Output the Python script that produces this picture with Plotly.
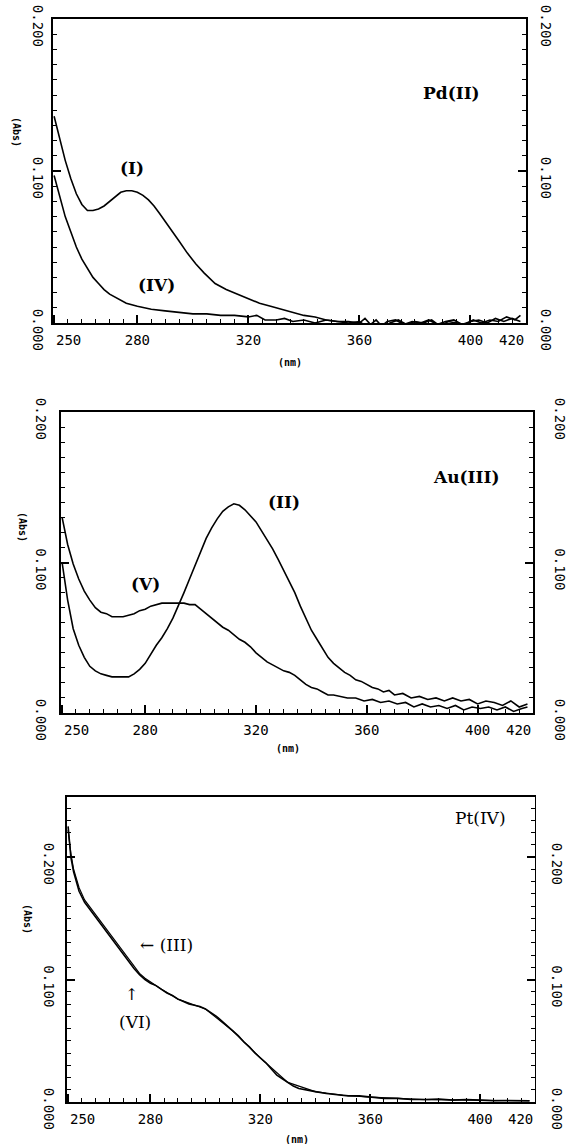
import plotly.graph_objects as go

W, H = 571, 1144

# ---------------- data ----------------
x_tickvals = [250, 280, 320, 360, 400, 420]
x_ticktext = ["", "280", "320", "360", "400", ""]
x_edge_labels = [("250", 250, "left"), ("420", 420, "right")]
y_tickvals = [0.0, 0.1, 0.2]
y_ticktext = ["0.000", "0.100", "0.200"]

# Panel 1: Pd(II)
pd_I_nm = [250, 252, 254, 256, 258, 260, 262, 264, 266, 268, 270, 272, 274, 276, 278, 280, 282, 284, 286,
           288, 290, 292, 295, 298, 301, 304, 308, 312, 316, 320, 324, 328, 332, 336, 340, 344, 348, 352, 356,
           360, 362, 364, 366, 368, 370, 373, 376, 379, 382, 385, 388, 391, 394, 397, 400, 403, 406, 409, 412,
           415, 418]
pd_I_abs = [0.136, 0.122, 0.107, 0.095, 0.085, 0.078, 0.074, 0.074, 0.075, 0.077, 0.080, 0.083, 0.086, 0.087,
            0.087, 0.086, 0.084, 0.081, 0.077, 0.072, 0.067, 0.062, 0.054, 0.046, 0.039, 0.033, 0.026, 0.022,
            0.019, 0.016, 0.013, 0.011, 0.009, 0.007, 0.005, 0.004, 0.002, 0.001, 0.001,
            0.000, 0.003, -0.001, 0.002, -0.002, 0.001, 0.002, -0.001, 0.001, 0.000, 0.002, -0.001, 0.001,
            0.002, -0.001, 0.001, 0.002, 0.000, 0.003, 0.001, 0.003, 0.001]
pd_IV_nm = [250, 252, 254, 256, 258, 260, 262, 264, 266, 268, 270, 273, 276, 280, 285, 290, 295, 300, 305, 310,
            315, 320, 323, 326, 330, 333, 336, 340, 344, 348, 352, 356,
            360, 363, 366, 368, 371, 374, 377, 380, 383, 386, 389, 392, 395, 398, 401, 404, 407, 410, 413,
            416, 418]
pd_IV_abs = [0.097, 0.083, 0.070, 0.060, 0.050, 0.042, 0.036, 0.030, 0.026, 0.022, 0.019, 0.016, 0.013, 0.011,
             0.009, 0.008, 0.007, 0.006, 0.006, 0.005, 0.005, 0.004, 0.005, 0.002, 0.002, 0.003, 0.001, 0.002,
             0.000, 0.002, 0.001, 0.000,
             0.001, -0.003, -0.006, -0.003, 0.000, 0.002, -0.001, 0.001, 0.000, 0.002, -0.002, 0.001, 0.000,
             -0.001, 0.002, 0.000, 0.002, 0.001, 0.004, 0.002, 0.005]

# Panel 2: Au(III)
au_II_nm = [250, 252, 254, 256, 258, 260, 262, 264, 266, 268, 270, 272, 274, 276, 278, 280, 282, 284, 286, 288,
            290, 292, 294, 296, 298, 300, 302, 304, 306, 308, 310, 312, 314, 316, 318, 320, 322, 324, 326, 328,
            330, 332, 334, 336, 338, 340, 342, 344, 346, 348, 350, 352, 354, 356, 358, 360, 362, 364, 366, 368,
            370, 373, 376, 379, 382, 385, 388, 391, 394, 397, 400, 403, 406, 409, 412, 415, 418]
au_II_abs = [0.100, 0.075, 0.056, 0.045, 0.037, 0.031, 0.028, 0.026, 0.025, 0.024, 0.024, 0.024, 0.024, 0.026,
             0.029, 0.033, 0.039, 0.045, 0.050, 0.056, 0.063, 0.071, 0.080, 0.089, 0.098, 0.107, 0.116, 0.123,
             0.129, 0.134, 0.137, 0.139, 0.138, 0.135, 0.131, 0.127, 0.121, 0.115, 0.109, 0.102, 0.095, 0.088,
             0.080, 0.071, 0.063, 0.055, 0.049, 0.043, 0.037, 0.033, 0.030, 0.027, 0.025, 0.022, 0.021, 0.019,
             0.017, 0.016, 0.014, 0.015, 0.012, 0.013, 0.010, 0.011, 0.009, 0.010, 0.008, 0.010, 0.008, 0.009,
             0.006, 0.008, 0.007, 0.005, 0.008, 0.004, 0.006]
au_V_nm = [250, 252, 254, 256, 258, 260, 262, 264, 266, 268, 270, 272, 274, 276, 278, 280, 282, 284, 286, 288,
           290, 292, 294, 296, 298, 300, 302, 304, 306, 308, 310, 312, 314, 316, 318, 320, 322, 324, 326, 328,
           330, 332, 334, 336, 338, 340, 342, 344, 346, 348, 350, 353, 356, 359, 362, 365, 368, 371, 374, 377,
           380, 383, 386, 389, 392, 395, 398, 401, 404, 407, 410, 413, 416, 418]
au_V_abs = [0.130, 0.112, 0.099, 0.089, 0.081, 0.075, 0.070, 0.067, 0.066, 0.064, 0.064, 0.064, 0.065, 0.066,
            0.068, 0.069, 0.071, 0.072, 0.073, 0.073, 0.073, 0.073, 0.073, 0.072, 0.072, 0.069, 0.066, 0.063,
            0.060, 0.057, 0.055, 0.052, 0.049, 0.047, 0.044, 0.040, 0.037, 0.034, 0.032, 0.030, 0.028, 0.027,
            0.025, 0.022, 0.019, 0.017, 0.016, 0.014, 0.012, 0.012, 0.011, 0.010, 0.010, 0.008, 0.009, 0.007,
            0.008, 0.006, 0.007, 0.004, 0.006, 0.004, 0.005, 0.003, 0.005, 0.002, 0.004, 0.003, 0.004, 0.002,
            0.004, 0.001, 0.003, 0.004]

# Panel 3: Pt(IV)
pt_III_nm = [250, 251, 252, 254, 256, 258, 260, 262, 264, 266, 268, 270, 272, 274, 276, 278, 280, 282, 284, 286,
             288, 290, 292, 294, 296, 298, 300, 302, 304, 306, 308, 310, 312, 314, 316, 318, 320, 322, 324, 326,
             328, 330, 332, 334, 336, 338, 340, 344, 348, 352, 356, 360, 365, 370, 375, 380, 385, 390, 395, 400,
             405, 410, 415, 418]
pt_III_abs = [0.225, 0.200, 0.188, 0.172, 0.163, 0.157, 0.151, 0.145, 0.139, 0.132, 0.126, 0.120, 0.114, 0.109,
              0.104, 0.100, 0.097, 0.095, 0.092, 0.089, 0.087, 0.084, 0.082, 0.080, 0.079, 0.078, 0.076, 0.073,
              0.070, 0.066, 0.062, 0.058, 0.054, 0.049, 0.045, 0.040, 0.036, 0.032, 0.027, 0.022, 0.019, 0.016,
              0.013, 0.011, 0.010, 0.009, 0.0085, 0.007, 0.006, 0.005, 0.005, 0.004, 0.003, 0.003, 0.002, 0.002,
              0.0025, 0.0015, 0.002, 0.0015, 0.001, 0.0012, 0.0008, 0.001]
pt_VI_nm = [250, 251, 252, 254, 256, 258, 260, 262, 264, 266, 268, 270, 272, 274, 276, 278, 280, 284, 290, 300,
            310, 320, 330, 340, 350, 360, 380, 400, 418]
pt_VI_abs = [0.222, 0.203, 0.190, 0.175, 0.165, 0.159, 0.153, 0.147, 0.141, 0.134, 0.128, 0.122, 0.116, 0.110,
             0.105, 0.101, 0.098, 0.092, 0.084, 0.076, 0.058, 0.036, 0.016, 0.0085, 0.0055, 0.004, 0.002,
             0.0015, 0.001]

# ---------------- styling ----------------
TICKFONT = dict(family="DejaVu Sans Mono", size=14, color="black")
LABELFONT_B = dict(family="DejaVu Serif", size=17, color="black")
LINE = dict(color="black", width=1.6)


def X(px):
    return px / W


def Y(py):
    return 1 - py / H


def xaxis_cfg(x0, x1, anchor):
    return dict(domain=[X(x0), X(x1)], anchor=anchor, range=[249.6, 420], automargin=False,
                tickmode="array", tickvals=x_tickvals, ticktext=x_ticktext,
                ticks="inside", ticklen=8, tickwidth=1.5, tickcolor="black",
                showline=True, linecolor="black", linewidth=2, mirror=True,
                showgrid=False, zeroline=False, tickfont=TICKFONT, ticklabelstandoff=3,
                ticklabeloverflow="allow",
                minor=dict(ticks="inside", ticklen=4, tickwidth=1.2, tickcolor="black",
                           tickmode="linear", tick0=250, dtick=5, showgrid=False))


def yaxis_cfg(y0, y1, rng, anchor, side, standoff, overlaying=None, lw=2):
    d = dict(domain=[Y(y1), Y(y0)], anchor=anchor, range=rng, side=side, automargin=False,
             tickmode="array", tickvals=y_tickvals, ticktext=y_ticktext, tickangle=90,
             ticks="inside", ticklen=8, tickwidth=1.5, tickcolor="black",
             showline=True, linecolor="black", linewidth=lw, mirror=False,
             showgrid=False, zeroline=False, tickfont=TICKFONT, ticklabelstandoff=standoff,
             ticklabelshift=9, ticklabeloverflow="allow",
             minor=dict(ticks="inside", ticklen=4, tickwidth=1.2, tickcolor="black",
                        tickmode="linear", tick0=0, dtick=0.01, showgrid=False))
    if overlaying:
        d["overlaying"] = overlaying
    return d


fig = go.Figure()

# panel 1
fig.add_trace(go.Scatter(x=pd_I_nm, y=pd_I_abs, mode="lines", line=LINE, xaxis="x", yaxis="y", name="(I)"))
fig.add_trace(go.Scatter(x=pd_IV_nm, y=pd_IV_abs, mode="lines", line=LINE, xaxis="x", yaxis="y4", name="(IV)"))
# panel 2
fig.add_trace(go.Scatter(x=au_II_nm, y=au_II_abs, mode="lines", line=LINE, xaxis="x2", yaxis="y2", name="(II)"))
fig.add_trace(go.Scatter(x=au_V_nm, y=au_V_abs, mode="lines", line=LINE, xaxis="x2", yaxis="y5", name="(V)"))
# panel 3
fig.add_trace(go.Scatter(x=pt_III_nm, y=pt_III_abs, mode="lines", line=LINE, xaxis="x3", yaxis="y3", name="(III)"))
fig.add_trace(go.Scatter(x=pt_VI_nm, y=pt_VI_abs, mode="lines", line=dict(color="black", width=1.2),
                         xaxis="x3", yaxis="y6", name="(VI)"))

P1 = (53, 526, 19, 323)
P2 = (61, 533, 412, 713)
P3 = (67, 535, 797, 1102)
R3 = [0, 0.249]

fig.update_layout(
    width=W, height=H, margin=dict(l=0, r=0, t=0, b=0, autoexpand=False),
    paper_bgcolor="white", plot_bgcolor="white", showlegend=False,
    xaxis=xaxis_cfg(P1[0], P1[1], "y"),
    yaxis=yaxis_cfg(P1[2], P1[3], [0, 0.2], "x", "left", 1),
    yaxis4=yaxis_cfg(P1[2], P1[3], [0, 0.2], "x", "right", 7, overlaying="y"),
    xaxis2=xaxis_cfg(P2[0], P2[1], "y2"),
    yaxis2=yaxis_cfg(P2[2], P2[3], [0, 0.2], "x2", "left", 6),
    yaxis5=yaxis_cfg(P2[2], P2[3], [0, 0.2], "x2", "right", 14, overlaying="y2"),
    xaxis3=xaxis_cfg(P3[0], P3[1], "y3"),
    yaxis3=yaxis_cfg(P3[2], P3[3], R3, "x3", "left", 4),
    yaxis6=yaxis_cfg(P3[2], P3[3], R3, "x3", "right", 10, overlaying="y3", lw=1),
)

ann = []
C = dict(showarrow=False, xanchor="center", yanchor="middle")
# panel labels
ann.append(dict(text="<b>Pd(II)</b>", x=393, y=0.151, xref="x", yref="y", font=LABELFONT_B, **C))
ann.append(dict(text="<b>(I)</b>", x=278, y=0.102, xref="x", yref="y", font=LABELFONT_B, **C))
ann.append(dict(text="<b>(IV)</b>", x=287, y=0.025, xref="x", yref="y", font=LABELFONT_B, **C))
ann.append(dict(text="<b>Au(III)</b>", x=396, y=0.157, xref="x2", yref="y2", font=LABELFONT_B, **C))
ann.append(dict(text="<b>(II)</b>", x=330, y=0.140, xref="x2", yref="y2", font=LABELFONT_B, **C))
ann.append(dict(text="<b>(V)</b>", x=280, y=0.086, xref="x2", yref="y2", font=LABELFONT_B, **C))
SERIF = dict(family="DejaVu Serif", size=17, color="black")
ann.append(dict(text="Pt(IV)", x=400, y=0.232, xref="x3", yref="y3", font=SERIF, **C))
ann.append(dict(text="← (III)", x=286, y=0.128, xref="x3", yref="y3", font=SERIF, **C))
ann.append(dict(text="↑", x=273, y=0.088, xref="x3", yref="y3",
                font=dict(family="DejaVu Serif", size=16, color="black"), **C))
ann.append(dict(text="(VI)", x=274.5, y=0.065, xref="x3", yref="y3", font=SERIF, **C))

# edge tick labels (250 / 420) aligned to the frame like the original
for xa, ya in [("x", "y"), ("x2", "y2"), ("x3", "y3")]:
    for txt, xv, anc in x_edge_labels:
        ann.append(dict(text=txt, x=xv, y=0, xref=xa, yref=ya, xanchor=anc, yanchor="top",
                        yshift=-7, font=TICKFONT, showarrow=False))

# axis titles
SMALL = dict(family="DejaVu Sans Mono", size=10, color="black")
for (px, py) in [(17, 132), (23, 527), (28, 919)]:
    ann.append(dict(text="<b>(Abs)</b>", x=X(px), y=Y(py), xref="paper", yref="paper", textangle=90,
                    font=SMALL, **C))
for (px, py) in [(290, 362), (288, 748), (297, 1139)]:
    ann.append(dict(text="<b>(nm)</b>", x=X(px), y=Y(py), xref="paper", yref="paper",
                    font=SMALL, **C))

fig.update_layout(annotations=ann)
fig.write_html("out.html", config={"displayModeBar": False},
               post_script="document.body.style.margin='0';document.body.style.overflow='hidden';")
